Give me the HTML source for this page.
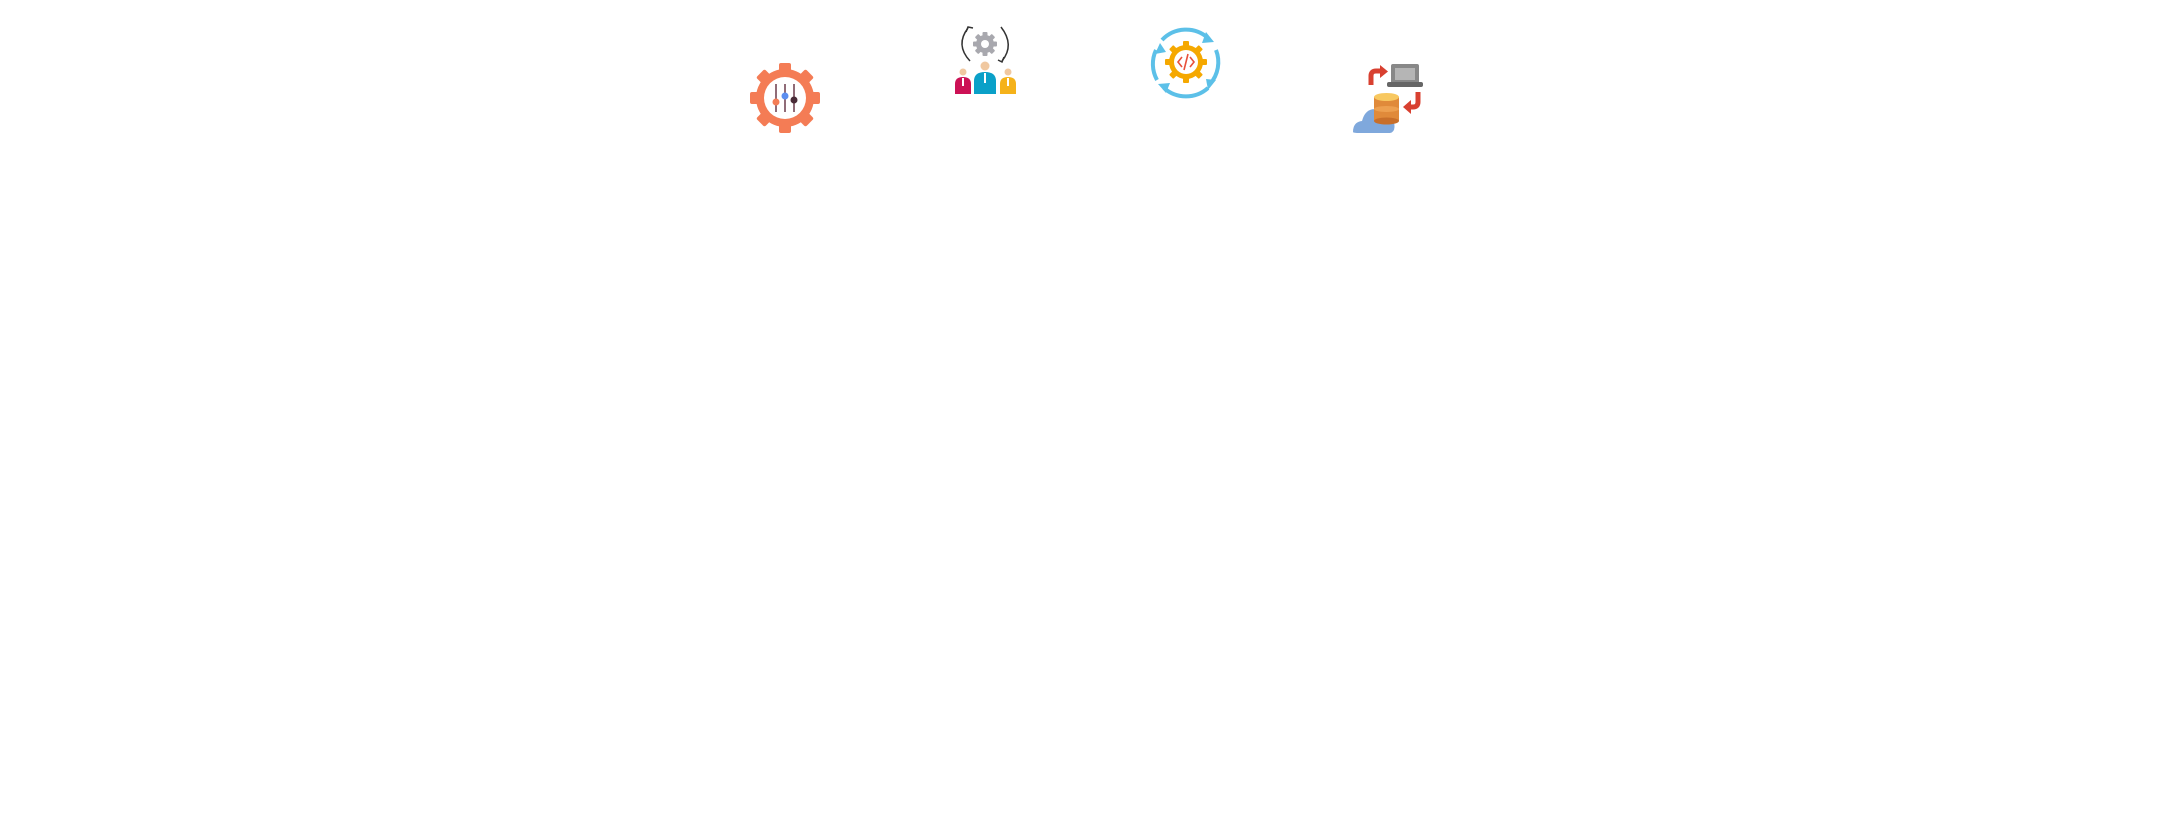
<!DOCTYPE html>
<html><head><meta charset="utf-8"><style>
html,body{margin:0;padding:0;background:#fff;width:2172px;height:835px;overflow:hidden}
svg{position:absolute;left:0;top:0}
</style></head><body>
<svg width="2172" height="835" viewBox="0 0 2172 835">
<!-- Gear with sliders -->
<g transform="translate(785,98)">
  <g fill="#f47c55">
    <circle r="29"/>
    <rect x="-6" y="-35" width="12" height="12" rx="2"/>
    <rect x="-6" y="23" width="12" height="12" rx="2"/>
    <rect x="-35" y="-6" width="12" height="12" rx="2"/>
    <rect x="23" y="-6" width="12" height="12" rx="2"/>
    <rect x="-6" y="-35" width="12" height="12" rx="2" transform="rotate(45)"/>
    <rect x="-6" y="-35" width="12" height="12" rx="2" transform="rotate(135)"/>
    <rect x="-6" y="-35" width="12" height="12" rx="2" transform="rotate(225)"/>
    <rect x="-6" y="-35" width="12" height="12" rx="2" transform="rotate(315)"/>
  </g>
  <circle r="21" fill="#fff"/>
  <g stroke="#6b3a4a" stroke-width="1.5">
    <line x1="-9" y1="-14" x2="-9" y2="14"/><line x1="0" y1="-14" x2="0" y2="14"/><line x1="9" y1="-14" x2="9" y2="14"/>
  </g>
  <circle cx="-9" cy="4" r="3.5" fill="#f47c55"/>
  <circle cx="0" cy="-2" r="3.5" fill="#5b8ef0"/>
  <circle cx="9" cy="2" r="3.5" fill="#4a2c38"/>
</g>
<!-- People with gear -->
<g>
  <g transform="translate(985,44)" fill="#a8a8ae">
    <circle r="9"/>
    <rect x="-2.5" y="-12" width="5" height="24" rx="1"/>
    <rect x="-2.5" y="-12" width="5" height="24" rx="1" transform="rotate(45)"/>
    <rect x="-2.5" y="-12" width="5" height="24" rx="1" transform="rotate(90)"/>
    <rect x="-2.5" y="-12" width="5" height="24" rx="1" transform="rotate(135)"/>
    <circle r="4" fill="#fff"/>
  </g>
  <path d="M968,28 Q955,45 970,61" fill="none" stroke="#333" stroke-width="1.5"/>
  <path d="M966,32 L968,27 L973,28" fill="none" stroke="#333" stroke-width="1.5"/>
  <path d="M1001,27 Q1015,45 1002,61" fill="none" stroke="#333" stroke-width="1.5"/>
  <path d="M998,60 L1002,62 L1004,57" fill="none" stroke="#333" stroke-width="1.5"/>
  <circle cx="963" cy="72" r="3.5" fill="#f0c8a0"/>
  <circle cx="985" cy="66" r="4.5" fill="#f0c8a0"/>
  <circle cx="1008" cy="72" r="3.5" fill="#f0c8a0"/>
  <path d="M955,94 L955,84 Q955,77 963,77 Q971,77 971,84 L971,94 Z" fill="#cc1155"/>
  <path d="M974,94 L974,81 Q974,72 985,72 Q996,72 996,81 L996,94 Z" fill="#0aa0c8"/>
  <path d="M1000,94 L1000,84 Q1000,77 1008,77 Q1016,77 1016,84 L1016,94 Z" fill="#f5b21a"/>
  <rect x="962" y="78" width="2" height="8" fill="#fff"/>
  <rect x="984" y="73" width="2" height="10" fill="#fff"/>
  <rect x="1007" y="78" width="2" height="8" fill="#fff"/>
</g>
<!-- Code gear with arrows -->
<g transform="translate(1186,62)">
  <g fill="none" stroke="#5cc0e8" stroke-width="4">
    <path d="M-24,-22 A33,33 0 0 1 22,-24"/>
    <path d="M30,-12 A33,33 0 0 1 24,22"/>
    <path d="M22,26 A33,33 0 0 1 -22,26"/>
    <path d="M-29,18 A33,33 0 0 1 -30,-12"/>
  </g>
  <g fill="#5cc0e8">
    <path d="M20,-30 L28,-20 L16,-19 Z"/>
    <path d="M30,18 L22,28 L20,17 Z"/>
    <path d="M-20,31 L-28,22 L-16,21 Z"/>
    <path d="M-31,-8 L-26,-19 L-20,-10 Z"/>
  </g>
  <g fill="#f5a800">
    <circle r="17"/>
    <rect x="-3" y="-21" width="6" height="42" rx="1"/>
    <rect x="-3" y="-21" width="6" height="42" rx="1" transform="rotate(45)"/>
    <rect x="-3" y="-21" width="6" height="42" rx="1" transform="rotate(90)"/>
    <rect x="-3" y="-21" width="6" height="42" rx="1" transform="rotate(135)"/>
  </g>
  <circle r="12" fill="#fff"/>
  <path d="M-4,-5 L-8,0 L-4,5 M4,-5 L8,0 L4,5 M2,-8 L-2,8" fill="none" stroke="#e8503a" stroke-width="1.6"/>
</g>
<!-- Database / cloud / laptop -->
<g>
  <path d="M1353,132 Q1353,122 1362,121 Q1366,106 1380,110 Q1392,108 1394,122 Q1396,132 1390,133 L1360,133 Q1353,133 1353,132 Z" fill="#7fa8dc"/>
  <rect x="1391" y="64" width="28" height="20" rx="2" fill="#888"/>
  <rect x="1395" y="68" width="20" height="12" fill="#b5b5b5"/>
  <rect x="1387" y="82" width="36" height="5" rx="2" fill="#666"/>
  <rect x="1374" y="97" width="25" height="24" fill="#e08a3a"/>
  <ellipse cx="1386.5" cy="121" rx="12.5" ry="3.5" fill="#c86f2a"/>
  <ellipse cx="1386.5" cy="109" rx="12.5" ry="3" fill="#eda050"/>
  <ellipse cx="1386.5" cy="97" rx="12.5" ry="4" fill="#f8c860"/>
  <path d="M1371,85 L1371,76 Q1371,71 1376,71 L1381,71" fill="none" stroke="#d84030" stroke-width="5"/>
  <path d="M1380,65 L1388,71.5 L1380,78 Z" fill="#d84030"/>
  <path d="M1418,92 L1418,102 Q1418,107 1413,107 L1410,107" fill="none" stroke="#d84030" stroke-width="5"/>
  <path d="M1411,100 L1403,107 L1411,114 Z" fill="#d84030"/>
</g>
</svg>
</body></html>
